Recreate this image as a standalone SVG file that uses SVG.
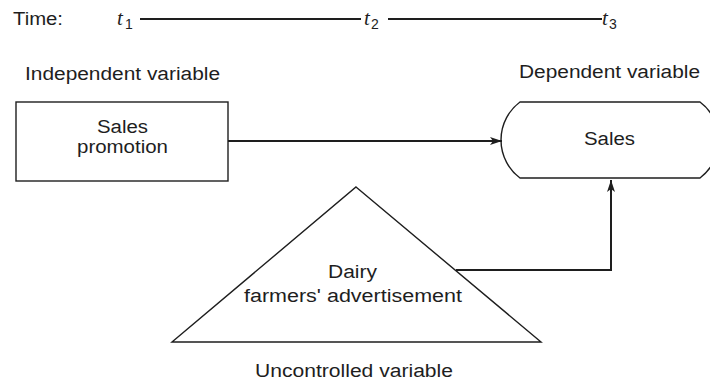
<svg xmlns="http://www.w3.org/2000/svg" width="710" height="384" viewBox="0 0 710 384">
  <style>
    .lbl { font-family: "Liberation Sans", Arial, sans-serif; font-size: 18px; fill: #1e1e1e; }
    .tm { font-family: "Liberation Serif", "Times New Roman", serif; font-style: italic; font-size: 21px; fill: #1e1e1e; }
    .sub { font-family: "Liberation Sans", Arial, sans-serif; font-size: 14px; fill: #1e1e1e; }
    .shape { fill: none; stroke: #1e1e1e; stroke-width: 1.4; }
    .conn { fill: none; stroke: #1e1e1e; stroke-width: 2; }
  </style>
  <defs>
    <marker id="arrow" viewBox="0 0 12 8" refX="12" refY="4" markerWidth="12" markerHeight="8" markerUnits="userSpaceOnUse" orient="auto">
      <path d="M0,0 L12,4 L0,8 L3,4 Z" fill="#1e1e1e"/>
    </marker>
  </defs>
  <rect width="710" height="384" fill="#ffffff"/>

  <!-- time axis -->
  <g id="timeline">
    <text class="lbl" x="13" y="25" textLength="50" lengthAdjust="spacingAndGlyphs">Time:</text>
    <text class="tm" x="117" y="25">t</text>
    <text class="sub" x="125" y="29">1</text>
    <line x1="140" y1="19" x2="361" y2="19" stroke="#1e1e1e" stroke-width="2"/>
    <text class="tm" x="364" y="25">t</text>
    <text class="sub" x="371" y="29">2</text>
    <line x1="388" y1="19" x2="602" y2="19" stroke="#1e1e1e" stroke-width="2"/>
    <text class="tm" x="602" y="25">t</text>
    <text class="sub" x="609" y="29">3</text>
  </g>

  <!-- independent variable -->
  <g id="sales-promotion">
    <text class="lbl" x="25" y="80" textLength="195" lengthAdjust="spacingAndGlyphs">Independent variable</text>
    <rect class="shape" x="16" y="102" width="212" height="79"/>
    <text class="lbl" x="97" y="133" textLength="51" lengthAdjust="spacingAndGlyphs">Sales</text>
    <text class="lbl" x="77" y="153" textLength="91" lengthAdjust="spacingAndGlyphs">promotion</text>
  </g>

  <!-- dependent variable -->
  <g id="sales">
    <text class="lbl" x="519" y="78" textLength="181" lengthAdjust="spacingAndGlyphs">Dependent variable</text>
    <path class="shape" d="M520,102 L700,102 A47.5,47.5 0 0 1 700,178 L520,178 A47.5,47.5 0 0 1 520,102 Z"/>
    <text class="lbl" x="584" y="145" textLength="51" lengthAdjust="spacingAndGlyphs">Sales</text>
  </g>

  <!-- uncontrolled variable -->
  <g id="dairy-advertisement">
    <polygon class="shape" points="356,187 541,342 172,342"/>
    <text class="lbl" x="328" y="278" textLength="49" lengthAdjust="spacingAndGlyphs">Dairy</text>
    <text class="lbl" x="244" y="302" textLength="218" lengthAdjust="spacingAndGlyphs">farmers' advertisement</text>
    <text class="lbl" x="255" y="377" textLength="198" lengthAdjust="spacingAndGlyphs">Uncontrolled variable</text>
  </g>

  <!-- connectors -->
  <g id="connectors">
    <line class="conn" x1="228" y1="141" x2="502" y2="141" marker-end="url(#arrow)"/>
    <polyline class="conn" points="456,270 611,270 611,180" marker-end="url(#arrow)"/>
  </g>
</svg>
